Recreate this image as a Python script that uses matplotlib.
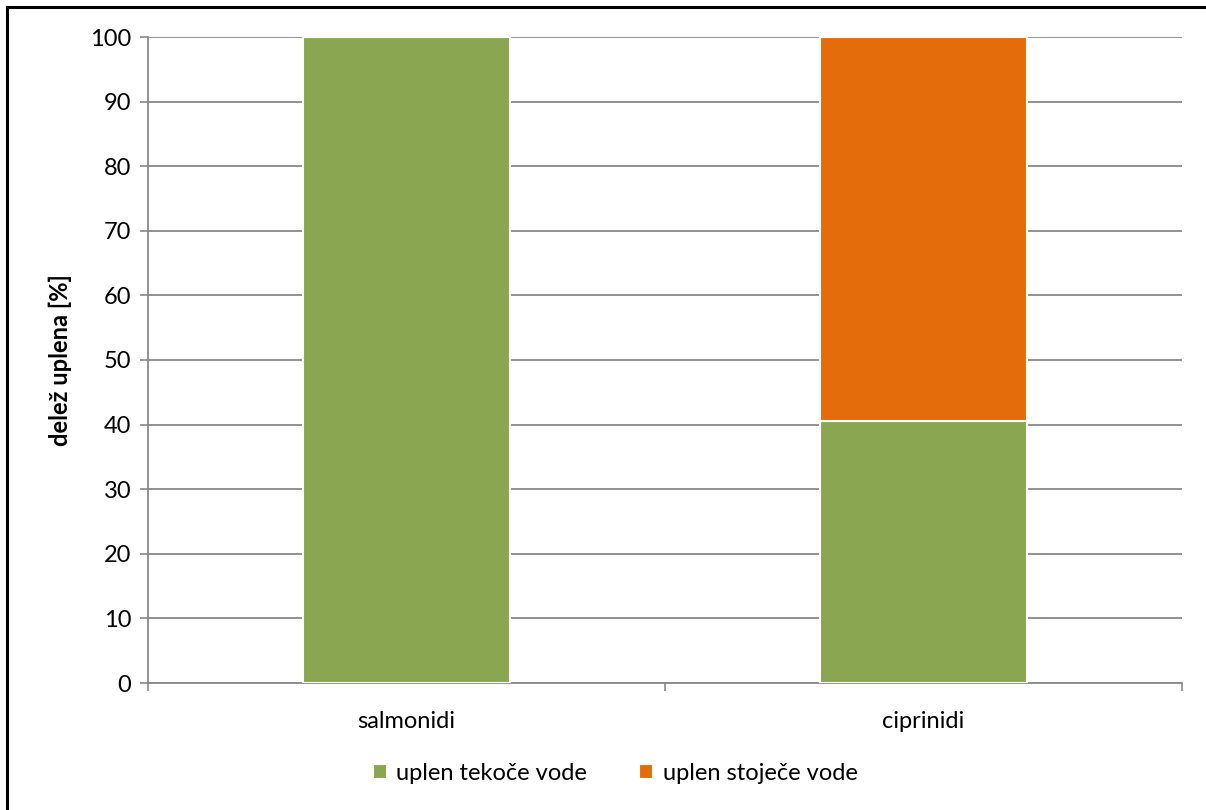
import matplotlib.pyplot as plt
from matplotlib.lines import Line2D
import numpy as np

plt.rcParams['font.family'] = ['Lato', 'DejaVu Sans']

categories = ['salmonidi', 'ciprinidi']
tekoce = [100, 40.6]
stojece = [0, 59.4]
series_names = ['uplen tekoče vode', 'uplen stoječe vode']
colors = ['#8BA650', '#E46C0A']
y_ticks = list(range(0, 101, 10))

fig = plt.figure(figsize=(12.06, 8.10), dpi=100)
ax = fig.add_axes([148 / 1206, 1 - 683 / 810, (1182 - 148) / 1206, (683 - 37) / 810])

x = np.arange(len(categories))
ax.bar(x, tekoce, width=0.4, color=colors[0], edgecolor='white', linewidth=1.5,
       label=series_names[0], zorder=3)
ax.bar(x, stojece, width=0.4, bottom=tekoce, color=colors[1], edgecolor='white',
       linewidth=1.5, label=series_names[1], zorder=3)

ax.set_xlim(-0.5, 1.5)
ax.set_ylim(0, 100)
ax.set_yticks(y_ticks)
ax.set_xticks(x)
ax.set_xticklabels(categories)
ax.set_xticks([-0.5, 0.5, 1.5], minor=True)
ax.tick_params(axis='x', which='major', length=0, pad=20, labelsize=17)
ax.tick_params(axis='x', which='minor', length=6, width=1.2, color='#898989', direction='out')
ax.tick_params(axis='y', length=6, width=1.2, color='#898989', labelsize=17, pad=6)
ax.yaxis.grid(True, color='#898989', linewidth=1.3, zorder=0)
ax.set_axisbelow(True)

for side in ['top', 'right']:
    ax.spines[side].set_visible(False)
for side in ['left', 'bottom']:
    ax.spines[side].set_color('#898989')
    ax.spines[side].set_linewidth(1.3)

ax.set_ylabel('delež uplena [%]', fontsize=17, fontweight='bold')
ax.yaxis.set_label_coords(-(148 - 72) / 1034, 0.5)

fig.legend(loc='center', bbox_to_anchor=(615 / 1206, 1 - 773 / 810), ncol=2, frameon=False,
           fontsize=17, handlelength=0.6, handleheight=0.6, handletextpad=0.4,
           columnspacing=2.2)

# outer frame
fig.add_artist(Line2D([7 / 1206, 7 / 1206], [1 - 7 / 810, 0], transform=fig.transFigure,
                      color='black', linewidth=2.2))
fig.add_artist(Line2D([7 / 1206, 1], [1 - 7 / 810, 1 - 7 / 810], transform=fig.transFigure,
                      color='black', linewidth=2.2))

fig.savefig('out.png', dpi=100)
